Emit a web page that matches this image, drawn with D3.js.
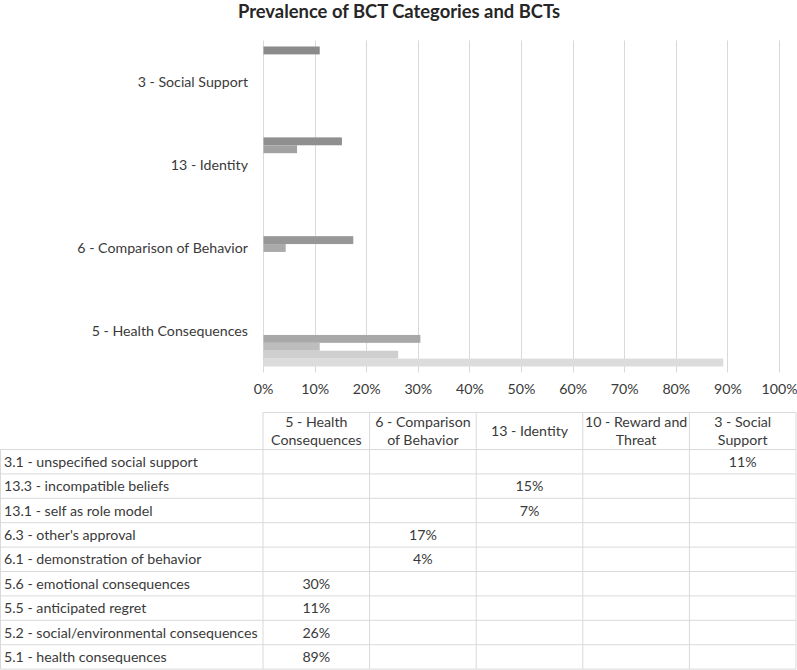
<!DOCTYPE html>
<html>
<head>
<meta charset="utf-8">
<script src="https://cdn.jsdelivr.net/npm/d3@7"></script>
<style>
  html, body { margin: 0; padding: 0; background: #fff; }
  svg { display: block; font-family: Lato, "Open Sans", sans-serif; }
</style>
</head>
<body>
<svg id="chart" width="797" height="670"></svg>
<script>
// ---------- data ----------
const title = "Prevalence of BCT Categories and BCTs";
// table columns (categories), left to right
const categories = [
  "5 - Health Consequences",
  "6 - Comparison of Behavior",
  "13 - Identity",
  "10 - Reward and Threat",
  "3 - Social Support"
];
const categoryHeaderLines = [
  ["5 - Health", "Consequences"],
  ["6 - Comparison", "of Behavior"],
  ["13 - Identity"],
  ["10 - Reward and", "Threat"],
  ["3 - Social", "Support"]
];
// series (BCTs), in table row order (top to bottom)
const seriesNames = [
  "3.1 - unspecified social support",
  "13.3 - incompatible beliefs",
  "13.1 - self as role model",
  "6.3 - other's approval",
  "6.1 - demonstration of behavior",
  "5.6 - emotional consequences",
  "5.5 - anticipated regret",
  "5.2 - social/environmental consequences",
  "5.1 - health consequences"
];
const seriesCategory = [
  "3 - Social Support",
  "13 - Identity",
  "13 - Identity",
  "6 - Comparison of Behavior",
  "6 - Comparison of Behavior",
  "5 - Health Consequences",
  "5 - Health Consequences",
  "5 - Health Consequences",
  "5 - Health Consequences"
];
const seriesValues = [0.109, 0.152, 0.065, 0.174, 0.043, 0.304, 0.109, 0.261, 0.891];
const seriesColors = ["#8b8b8b", "#8f8f8f", "#a2a2a2", "#979797", "#aaaaaa", "#a8a8a8", "#bdbdbd", "#cfcfcf", "#dcdcdc"];
const xTicks = [0, 0.1, 0.2, 0.3, 0.4, 0.5, 0.6, 0.7, 0.8, 0.9, 1.0];

// ---------- layout ----------
const svg = d3.select("#chart");
const textColor = "#3a3a3a";
const gridColor = "#d9d9d9";
const fs = 14.2;
const plotLeft = 263, plotRight = 779, plotTop = 40.5, plotBottom = 372.5;
const tableLeft = 0.5, tableColStart = 263, tableRight = 796;
const headerTop = 412.5, headerBottom = 449.5, rowH = 24.4;

const x = d3.scaleLinear().domain([0, 1]).range([plotLeft, plotRight]);

// chart categories: those with data, top to bottom (reverse of table order)
const chartCategories = categories
  .filter(c => seriesCategory.some((sc, i) => sc === c && seriesValues[i] > 0))
  .reverse();

const y = d3.scaleBand().domain(chartCategories).range([plotTop, plotBottom])
  .paddingInner(12 / 83).paddingOuter(6 / 83);
const ySeries = d3.scaleBand().domain(seriesNames).range([0, y.bandwidth()]);

// title
svg.append("text")
  .attr("x", 399).attr("y", 18)
  .attr("text-anchor", "middle")
  .attr("font-size", 18.4).attr("font-weight", "bold")
  .attr("fill", "#262626")
  .text(title);

// gridlines
svg.append("g").selectAll("line").data(xTicks).join("line")
  .attr("x1", d => Math.round(x(d)) + 0.5).attr("x2", d => Math.round(x(d)) + 0.5)
  .attr("y1", plotTop).attr("y2", plotBottom)
  .attr("stroke", gridColor).attr("stroke-width", 1);

// x axis labels
const xAxis = d3.axisBottom(x).tickValues(xTicks).tickFormat(d3.format(".0%")).tickSize(0).tickPadding(0);
const gx = svg.append("g").attr("transform", `translate(0, ${plotBottom + 11.5})`).call(xAxis);
gx.select(".domain").remove();
gx.selectAll("text").attr("font-size", fs).attr("fill", textColor)
  .attr("font-family", "Lato, 'Open Sans', sans-serif").attr("dy", "0.71em");

// y axis labels
const yAxis = d3.axisLeft(y).tickSize(0).tickPadding(15);
const gy = svg.append("g").attr("transform", `translate(${plotLeft}, 0)`).call(yAxis);
gy.select(".domain").remove();
gy.selectAll("text").attr("font-size", fs).attr("fill", textColor)
  .attr("font-family", "Lato, 'Open Sans', sans-serif");

// bars
const barData = seriesNames.map((name, i) => ({
  name, cat: seriesCategory[i], value: seriesValues[i], color: seriesColors[i]
})).filter(d => chartCategories.includes(d.cat));

svg.append("g").selectAll("rect").data(barData).join("rect")
  .attr("x", x(0) + 0.5)
  .attr("y", d => y(d.cat) + ySeries(d.name))
  .attr("width", d => x(d.value) - x(0))
  .attr("height", ySeries.bandwidth())
  .attr("fill", d => d.color);

// ---------- data table ----------
const colW = (tableRight - tableColStart) / categories.length;
const tg = svg.append("g");
const line = (x1, y1, x2, y2) => tg.append("line")
  .attr("x1", x1).attr("y1", y1).attr("x2", x2).attr("y2", y2)
  .attr("stroke", gridColor).attr("stroke-width", 1);

// header top border and verticals
line(tableColStart, headerTop, tableRight, headerTop);
const tableBottom = headerBottom + rowH * seriesNames.length;
categories.forEach((c, j) => {
  line(tableColStart + j * colW, headerTop, tableColStart + j * colW, tableBottom);
});
line(tableRight, headerTop, tableRight, tableBottom);
line(tableLeft, headerBottom, tableLeft, tableBottom);
// horizontal lines
for (let i = 0; i <= seriesNames.length; i++) {
  const yy = headerBottom + i * rowH;
  line(tableLeft, yy, tableRight, yy);
}

// header text
categoryHeaderLines.forEach((lines, j) => {
  const cx = tableColStart + (j + 0.5) * colW;
  const mid = (headerTop + headerBottom) / 2;
  const lh = 17.5;
  lines.forEach((l, k) => {
    tg.append("text")
      .attr("x", cx)
      .attr("y", mid + (k - (lines.length - 1) / 2) * lh + 5)
      .attr("text-anchor", "middle")
      .attr("font-size", fs).attr("fill", textColor)
      .text(l);
  });
});

// rows
seriesNames.forEach((name, i) => {
  const cy = headerBottom + (i + 0.5) * rowH + 5;
  tg.append("text").attr("x", 4).attr("y", cy)
    .attr("font-size", fs).attr("fill", textColor).text(name);
  const j = categories.indexOf(seriesCategory[i]);
  tg.append("text").attr("x", tableColStart + (j + 0.5) * colW).attr("y", cy)
    .attr("text-anchor", "middle")
    .attr("font-size", fs).attr("fill", textColor)
    .text(d3.format(".0%")(seriesValues[i]));
});
</script>
</body>
</html>
